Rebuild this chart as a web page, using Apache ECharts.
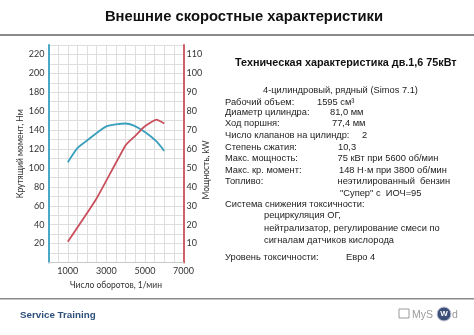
<!DOCTYPE html>
<html><head><meta charset="utf-8">
<script src="https://cdn.jsdelivr.net/npm/echarts@6/dist/echarts.min.js"></script>
<style>html,body{margin:0;padding:0;background:#fff;}#c{width:474px;height:335px;}</style>
</head><body><div id="c"></div>
<script>
const rpmTorque = [1000, 1500, 2000, 3000, 4000, 4400, 5000, 5600, 6000];
const torqueNm = [106, 121, 129, 144, 147, 145, 138, 128, 118];
const rpmPower = [1000, 2500, 4000, 4500, 5000, 5600, 6000];
const powerKw = [11, 34, 62, 67, 72, 75.5, 73.5];
const torqueTicks = [20, 40, 60, 80, 100, 120, 140, 160, 180, 200, 220];
const powerTicks = [10, 20, 30, 40, 50, 60, 70, 80, 90, 100, 110];
const rpmTicks = [1000, 3000, 5000, 7000];

const title = 'Внешние скоростные характеристики';
const specTitle = 'Техническая характеристика дв.1,6 75кВт';
const specRows = [
  ['Рабочий объем:', '1595 см³'],
  ['Диаметр цилиндра:', '81,0 мм'],
  ['Ход поршня:', '77,4 мм'],
  ['Число клапанов на цилиндр:', '2'],
  ['Степень сжатия:', '10,3'],
  ['Макс. мощность:', '75 кВт при 5600 об/мин'],
  ['Макс. кр. момент:', '148 Н·м при 3800 об/мин'],
  ['Топливо:', 'неэтилированный  бензин'],
  ['', '"Супер" с  ИОЧ=95']
];

const chart = echarts.init(document.getElementById('c'), null, {renderer: 'canvas'});
const tickFont = 'Lato';
const gridColor = '#dedede';

const specY = [102, 112.7, 123.3, 135, 147, 158.3, 170, 181.7, 193.3];
const valX = [317, 330, 332, 362, 338, 337.5, 339, 337.5, 340];

const textStyle = {font: '9.3px "Liberation Sans", Arial, sans-serif', fill: '#222', textVerticalAlign: 'middle'};
const graphics = [
  {type: 'text', x: 244, y: 17, style: {text: title, font: 'bold 14.8px "Liberation Sans", Arial, sans-serif', fill: '#111', textAlign: 'center', textVerticalAlign: 'middle'}, z: 10},
  {type: 'rect', shape: {x: 0, y: 34, width: 474, height: 2}, style: {fill: '#8a8a8a'}},
  {type: 'rect', shape: {x: 0, y: 298, width: 474, height: 1.5}, style: {fill: '#8a8a8a'}},
  {type: 'text', x: 20, y: 315, style: {text: 'Service Training', font: 'bold 9.8px "Liberation Sans", Arial, sans-serif', fill: '#2d4f7c', textVerticalAlign: 'middle'}},
  {type: 'rect', shape: {x: 399, y: 309, width: 10, height: 9}, style: {fill: 'none', stroke: '#9a9a9a', lineWidth: 1}},
  {type: 'text', x: 412, y: 315, style: {text: 'MyS', font: '10.5px "Liberation Sans", Arial, sans-serif', fill: '#9a9a9a', textVerticalAlign: 'middle'}},
  {type: 'circle', shape: {cx: 444, cy: 314, r: 7}, style: {fill: '#3b4f78', stroke: '#c8c8d8', lineWidth: 1}},
  {type: 'text', x: 444, y: 314, style: {text: 'W', font: 'bold 8px "Liberation Sans", Arial, sans-serif', fill: '#fff', textAlign: 'center', textVerticalAlign: 'middle'}},
  {type: 'text', x: 452, y: 315, style: {text: 'd', font: '10.5px "Liberation Sans", Arial, sans-serif', fill: '#9a9a9a', textVerticalAlign: 'middle'}},
  {type: 'text', x: 206, y: 170, rotation: Math.PI / 2, style: {text: 'Мощность, kW', font: '8.5px Lato', fill: '#333', textAlign: 'center', textVerticalAlign: 'middle'}},
  {type: 'text', x: 235, y: 63, style: {text: specTitle, font: 'bold 10.8px "Liberation Sans", Arial, sans-serif', fill: '#111', textVerticalAlign: 'middle'}},
  {type: 'text', x: 263, y: 90, style: Object.assign({}, textStyle, {text: '4-цилиндровый, рядный (Simos 7.1)'})},
  {type: 'text', x: 225, y: 204.3, style: Object.assign({}, textStyle, {text: 'Система снижения токсичности:'})},
  {type: 'text', x: 264, y: 215.7, style: Object.assign({}, textStyle, {text: 'рециркуляция ОГ,'})},
  {type: 'text', x: 264, y: 228.3, style: Object.assign({}, textStyle, {text: 'нейтрализатор, регулирование смеси по'})},
  {type: 'text', x: 264, y: 240, style: Object.assign({}, textStyle, {text: 'сигналам датчиков кислорода'})},
  {type: 'text', x: 225, y: 257.7, style: Object.assign({}, textStyle, {text: 'Уровень токсичности:'})},
  {type: 'text', x: 346, y: 257.7, style: Object.assign({}, textStyle, {text: 'Евро 4'})}
];
specRows.forEach((r, i) => {
  if (r[0]) graphics.push({type: 'text', x: 225, y: specY[i], style: Object.assign({}, textStyle, {text: r[0]})});
  graphics.push({type: 'text', x: valX[i], y: specY[i], style: Object.assign({}, textStyle, {text: r[1]})});
});

chart.setOption({
  animation: false,
  grid: {left: 48.5, right: 290.5, top: 45, bottom: 72.5, containLabel: false},
  xAxis: {
    type: 'value', min: 0, max: 7000, interval: 500,
    name: 'Число оборотов, 1/мин', nameLocation: 'middle', nameGap: 15,
    nameTextStyle: {fontFamily: tickFont, fontSize: 8.5, color: '#333'},
    axisLine: {show: true, lineStyle: {color: '#c8c8c8', width: 1}},
    axisTick: {show: false},
    axisLabel: {fontFamily: tickFont, fontSize: 9, color: '#333', margin: 4,
      formatter: v => rpmTicks.includes(v) ? String(v) : ''},
    splitLine: {show: true, lineStyle: {color: gridColor, width: 1}}
  },
  yAxis: [
    {
      type: 'value', min: 0, max: 230, interval: 10, position: 'left',
      name: 'Крутящий момент, Нм', nameLocation: 'middle', nameGap: 22,
      nameTextStyle: {fontFamily: tickFont, fontSize: 8.5, color: '#333'},
      axisLine: {show: true, lineStyle: {color: '#4aa8c6', width: 2}},
      axisTick: {show: false},
      axisLabel: {fontFamily: tickFont, fontSize: 9, color: '#333', margin: 4,
        formatter: v => torqueTicks.includes(v) ? String(v) : ''},
      splitLine: {show: true, lineStyle: {color: gridColor, width: 1}}
    },
    {
      type: 'value', min: 0, max: 115, interval: 5, position: 'right',
      axisLine: {show: true, lineStyle: {color: '#cf5f69', width: 2}},
      axisTick: {show: false},
      axisLabel: {fontFamily: tickFont, fontSize: 9, color: '#333', margin: 3,
        formatter: v => powerTicks.includes(v) ? String(v) : ''},
      splitLine: {show: false}
    }
  ],
  series: [
    {type: 'line', yAxisIndex: 0, data: rpmTorque.map((x, i) => [x, torqueNm[i]]),
      showSymbol: false, lineStyle: {color: '#3a9fbd', width: 1.8}, smooth: 0.2},
    {type: 'line', yAxisIndex: 1, data: rpmPower.map((x, i) => [x, powerKw[i]]),
      showSymbol: false, lineStyle: {color: '#c9505c', width: 1.8}, smooth: 0.15}
  ],
  graphic: graphics
});
</script>
</body></html>
